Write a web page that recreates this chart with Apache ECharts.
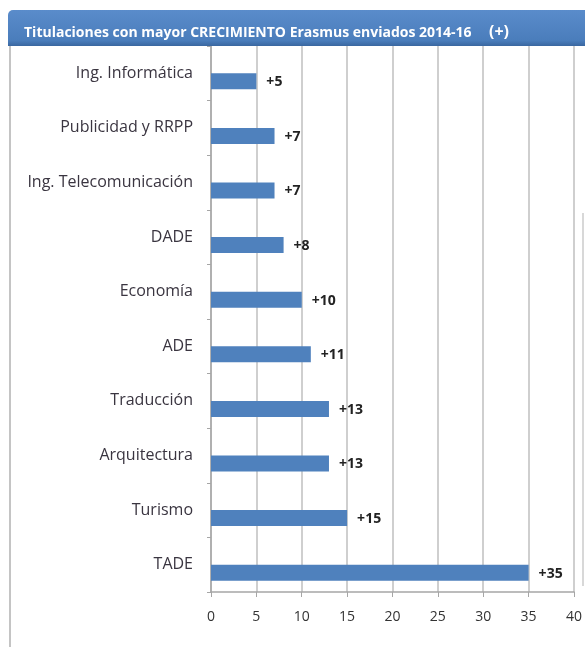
<!DOCTYPE html>
<html>
<head>
<meta charset="utf-8">
<script src="https://cdn.jsdelivr.net/npm/echarts@6/dist/echarts.min.js"></script>
<style>html,body{margin:0;padding:0;background:#fff;}#c{width:585px;height:647px;}</style>
</head>
<body>
<div id="c"></div>
<script>
var categories = ["Ing. Informática","Publicidad y RRPP","Ing. Telecomunicación","DADE","Economía","ADE","Traducción","Arquitectura","Turismo","TADE"];
var values = [5,7,7,8,10,11,13,13,15,35];
var xTicks = {min:0, max:40, interval:5};
var titleText = "Titulaciones con mayor CRECIMIENTO Erasmus enviados 2014-16";
var titleSuffix = "(+)";

var chart = echarts.init(document.getElementById('c'), null, {renderer:'canvas'});
chart.setOption({
  animation:false,
  backgroundColor:'#ffffff',
  textStyle:{fontFamily:'Open Sans'},
  graphic:[
    {type:'rect', shape:{x:8,y:10,width:590,height:36,r:[5,0,0,0]},
     style:{fill:new echarts.graphic.LinearGradient(0,0,0,1,[{offset:0,color:'#5a8ccb'},{offset:0.85,color:'#4a7dbb'},{offset:1,color:'#3a67a0'}])}, z:10},
    {type:'text', x:24, y:33, style:{text:titleText, fill:'#ffffff', font:'bold 14px "Open Sans"', verticalAlign:'middle'}, z:11},
    {type:'text', x:489, y:32, style:{text:titleSuffix, fill:'#ffffff', font:'bold 16px "Open Sans"', verticalAlign:'middle'}, z:11},
    {type:'line', shape:{x1:10,y1:46,x2:10,y2:647}, style:{stroke:'#c4c4c4',lineWidth:2}, z:5},
    {type:'line', shape:{x1:583,y1:213,x2:583,y2:586}, style:{stroke:'#d8d8d8',lineWidth:2}, z:5}
  ],
  grid:{left:211, right:585-576.5, top:46, bottom:647-592, containLabel:false},
  xAxis:{type:'value', min:xTicks.min, max:xTicks.max, interval:xTicks.interval,
    axisLine:{show:true,lineStyle:{color:'#a6a6a6',width:1.5}},
    axisTick:{show:true,length:5,lineStyle:{color:'#a6a6a6'}},
    axisLabel:{color:'#333',fontSize:14,margin:18,fontFamily:'Open Sans'},
    splitLine:{show:true,lineStyle:{color:'#bfbfbf',width:1.5}}},
  yAxis:{type:'category', data:categories, inverse:true,
    axisLine:{show:true,lineStyle:{color:'#a6a6a6',width:1.5}},
    axisTick:{show:true,length:4,lineStyle:{color:'#a6a6a6'}},
    axisLabel:{color:'#3a3540',fontSize:16,margin:18,fontFamily:'Open Sans'},
    splitLine:{show:false}},
  series:[
    {type:'bar', data:values, barWidth:16, barGap:'0%', itemStyle:{color:'rgba(0,0,0,0)'}, silent:true},
    {type:'bar', data:values, barWidth:16, barGap:'0%', itemStyle:{color:'#4f81bd'},
     label:{show:true, position:'right', distance:10, offset:[0,1], color:'#222', fontWeight:'bold', fontSize:14, fontFamily:'Open Sans',
       formatter:function(p){return '+'+p.value;}}}
  ]
});
</script>
</body>
</html>
